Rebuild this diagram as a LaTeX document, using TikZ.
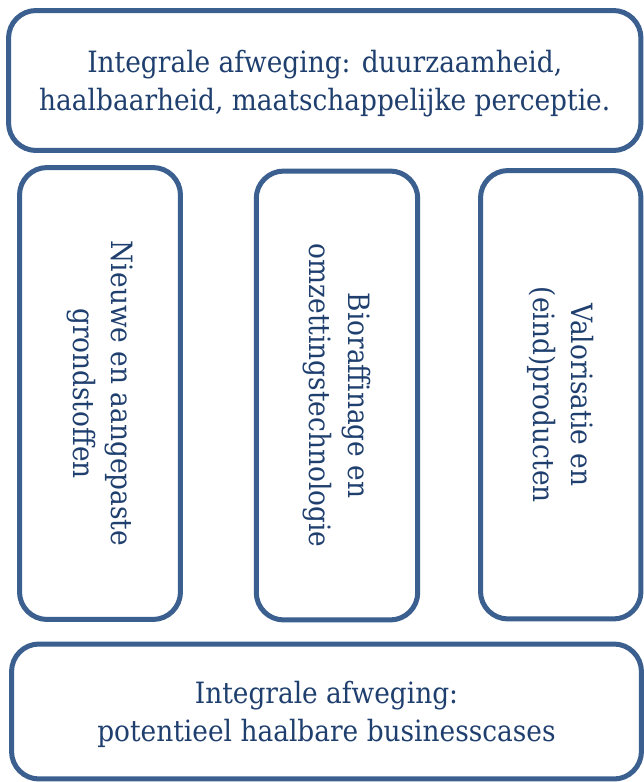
\documentclass[tikz,border=0pt]{standalone}
\usepackage{fontspec}
\setmainfont{DejaVu Serif}[FakeStretch=0.9]
\usepackage{xcolor}
\usepackage{tikz}
\definecolor{boxblue}{HTML}{3B5F8F}
\definecolor{textblue}{HTML}{1F3F6E}

\begin{document}
\begin{tikzpicture}[x=0.02cm,y=-0.02cm,
  box/.style={draw=boxblue,line width=2.85pt,rounded corners=0.55cm,text=textblue,
    align=center,inner sep=0pt,font=\fontsize{16.7}{21.8}\selectfont}]
\useasboundingbox (0,0) rectangle (644,782);
\node[box,text depth=0pt,minimum width=12.65cm,minimum height=2.8cm] (top) at (324.75,80.5)
  {Integrale afweging: duurzaamheid,\\haalbaarheid, maatschappelijke perceptie.};
\node[box,rotate=-90,minimum width=9.04cm,minimum height=3.22cm] (grond) at (100,393.5)
  {Nieuwe en aangepaste\\grondstoffen};
\node[box,rotate=-90,minimum width=8.98cm,minimum height=3.23cm] (bioraf) at (337,395.5)
  {Bioraffinage en\\omzettingstechnologie};
\node[box,rotate=-90,minimum width=8.97cm,minimum height=3.21cm] (valor) at (560.75,394.75)
  {Valorisatie en\\(eind)producten};
\node[box,text depth=0pt,minimum width=12.6cm,minimum height=2.7cm] (bottom) at (326.5,711.5)
  {Integrale afweging:\\potentieel haalbare businesscases};
\end{tikzpicture}
\end{document}
